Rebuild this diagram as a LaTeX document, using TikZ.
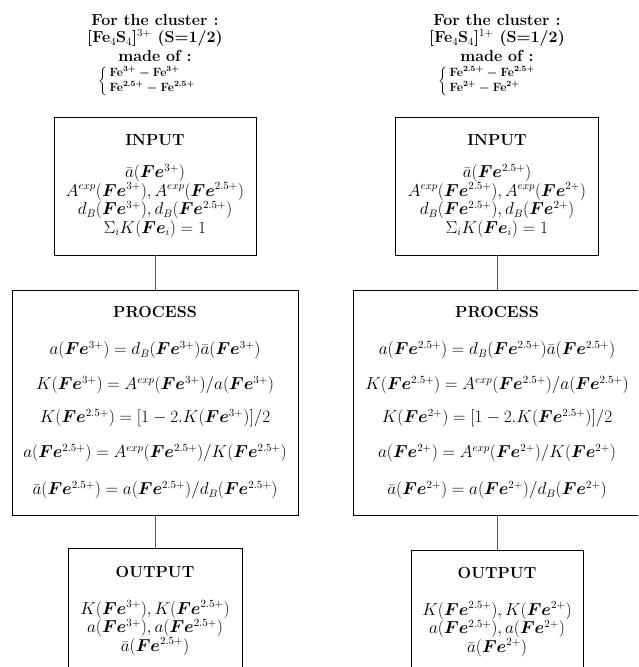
\documentclass[tikz,border=0pt]{standalone}
\usepackage{amsmath,bm}
\newcommand{\FE}{\bm{Fe}}
\tikzset{
  boxnode/.style={draw=black, line width=0.9pt, inner sep=0pt},
  conn/.style={draw=black!65, line width=0.7pt},
  head/.style={font=\fontsize{16}{19}\selectfont\bfseries, inner sep=0pt},
  tline/.style={font=\fontsize{16}{19}\selectfont\bfseries, inner sep=0pt},
  bracetxt/.style={font=\fontsize{12}{15}\selectfont\bfseries\boldmath, inner sep=0pt},
  mtxt/.style={font=\fontsize{16}{18.5}\selectfont, align=center, inner sep=0pt},
}
\begin{document}
\begin{tikzpicture}[x=1pt,y=-1pt]
\useasboundingbox (0,0) rectangle (638,667);
\clip (0,0) rectangle (638,667);

% ---------- left column ----------
\node[tline] (tL1) at (155,20) {For the cluster :};
\node[tline] (tL2) at (155,38) {[Fe$_4$S$_4$]$^{3+}$ (S=1/2)};
\node[tline] (tL3) at (155,56) {made of :};
\node[bracetxt, anchor=west] (tL4) at (98,81) {$\left\{\begin{array}{@{\,}l@{}}\mathrm{Fe}^{3+}-\mathrm{Fe}^{3+}\\ \mathrm{Fe}^{2.5+}-\mathrm{Fe}^{2.5+}\end{array}\right.$};

\node[boxnode, minimum width=202pt, minimum height=138pt] (inL) at (155,186) {};
\node[head] (inLh) at (155,140) {INPUT};
\node[mtxt] (inLt) at (155,201) {$\bar a(\FE^{3+})$\\ $A^{exp}(\FE^{3+}), A^{exp}(\FE^{2.5+})$\\ $d_B(\FE^{3+}), d_B(\FE^{2.5+})$\\ $\Sigma_i K(\FE_i) = 1$};

\node[boxnode, minimum width=286pt, minimum height=225pt] (prL) at (155,402.5) {};
\node[head] (prLh) at (155,312) {PROCESS};
\node[mtxt] (prL1) at (155,350) {$a(\FE^{3+}) = d_B(\FE^{3+})\bar a(\FE^{3+})$};
\node[mtxt] (prL2) at (155,385) {$K(\FE^{3+}) = A^{exp}(\FE^{3+})/a(\FE^{3+})$};
\node[mtxt] (prL3) at (155,418) {$K(\FE^{2.5+}) = [1-2.K(\FE^{3+})]/2$};
\node[mtxt] (prL4) at (155,453) {$a(\FE^{2.5+}) = A^{exp}(\FE^{2.5+})/K(\FE^{2.5+})$};
\node[mtxt] (prL5) at (155,490) {$\bar a(\FE^{2.5+}) = a(\FE^{2.5+})/d_B(\FE^{2.5+})$};

\node[boxnode, minimum width=174pt, minimum height=200pt] (outL) at (155,648) {};
\node[head] (outLh) at (155,572) {OUTPUT};
\node[mtxt] (outLt) at (155,628) {$K(\FE^{3+}), K(\FE^{2.5+})$\\ $a(\FE^{3+}), a(\FE^{2.5+})$\\ $\bar a(\FE^{2.5+})$};

\draw[conn] (inL.south) -- (prL.north);
\draw[conn] (prL.south) -- (outL.north);

% ---------- right column ----------
\node[tline] (tR1) at (497,20) {For the cluster :};
\node[tline] (tR2) at (497,38) {[Fe$_4$S$_4$]$^{1+}$ (S=1/2)};
\node[tline] (tR3) at (497,56) {made of :};
\node[bracetxt, anchor=west] (tR4) at (438,81) {$\left\{\begin{array}{@{\,}l@{}}\mathrm{Fe}^{2.5+}-\mathrm{Fe}^{2.5+}\\ \mathrm{Fe}^{2+}-\mathrm{Fe}^{2+}\end{array}\right.$};

\node[boxnode, minimum width=203pt, minimum height=138pt] (inR) at (497,186) {};
\node[head] (inRh) at (497,140) {INPUT};
\node[mtxt] (inRt) at (497,201) {$\bar a(\FE^{2.5+})$\\ $A^{exp}(\FE^{2.5+}), A^{exp}(\FE^{2+})$\\ $d_B(\FE^{2.5+}), d_B(\FE^{2+})$\\ $\Sigma_i K(\FE_i) = 1$};

\node[boxnode, minimum width=288pt, minimum height=225pt] (prR) at (497,402.5) {};
\node[head] (prRh) at (497,312) {PROCESS};
\node[mtxt] (prR1) at (497,350) {$a(\FE^{2.5+}) = d_B(\FE^{2.5+})\bar a(\FE^{2.5+})$};
\node[mtxt] (prR2) at (497,385) {$K(\FE^{2.5+}) = A^{exp}(\FE^{2.5+})/a(\FE^{2.5+})$};
\node[mtxt] (prR3) at (497,418) {$K(\FE^{2+}) = [1-2.K(\FE^{2.5+})]/2$};
\node[mtxt] (prR4) at (497,453) {$a(\FE^{2+}) = A^{exp}(\FE^{2+})/K(\FE^{2+})$};
\node[mtxt] (prR5) at (497,490) {$\bar a(\FE^{2+}) = a(\FE^{2+})/d_B(\FE^{2+})$};

\node[boxnode, minimum width=172pt, minimum height=200pt] (outR) at (497,650) {};
\node[head] (outRh) at (497,573) {OUTPUT};
\node[mtxt] (outRt) at (497,629) {$K(\FE^{2.5+}), K(\FE^{2+})$\\ $a(\FE^{2.5+}), a(\FE^{2+})$\\ $\bar a(\FE^{2+})$};

\draw[conn] (inR.south) -- (prR.north);
\draw[conn] (prR.south) -- (outR.north);
\end{tikzpicture}
\end{document}
